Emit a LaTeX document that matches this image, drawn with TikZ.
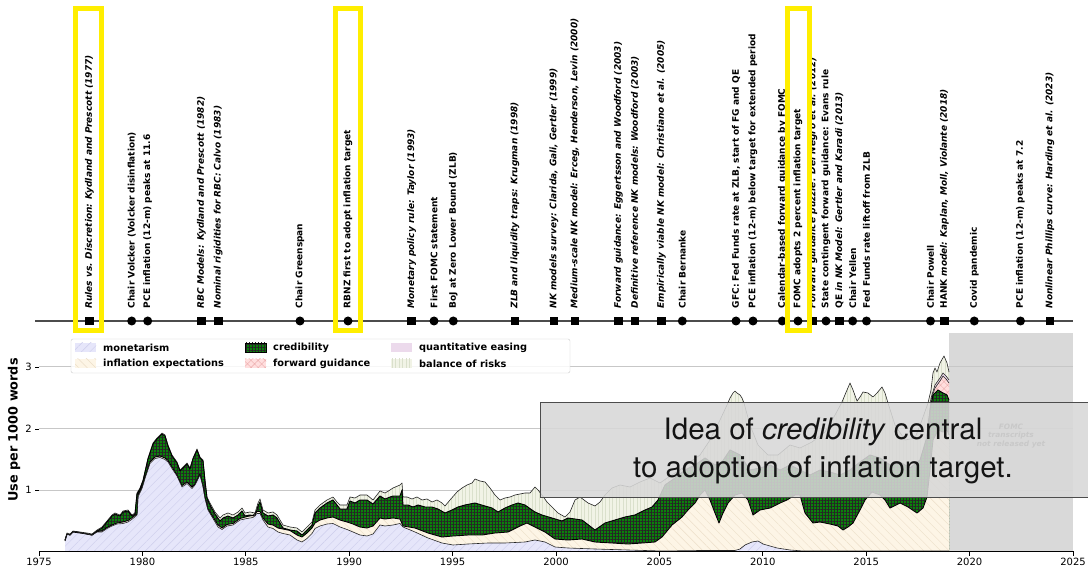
\documentclass[tikz,border=0pt]{standalone}
\usepackage{fontspec}
\setmainfont{DejaVu Sans}
\newfontfamily\heros{TeX Gyre Heros}
\usetikzlibrary{calc,patterns.meta}
\definecolor{Monetarism}{RGB}{230,230,250}
\definecolor{MonetarismHatch}{RGB}{205,205,236}
\definecolor{Expectations}{RGB}{253,245,230}
\definecolor{ExpectationsHatch}{RGB}{236,222,200}
\definecolor{Credibility}{RGB}{10,130,10}
\definecolor{Guidance}{RGB}{255,222,222}
\definecolor{GuidanceHatch}{RGB}{235,170,170}
\definecolor{Easing}{RGB}{236,218,236}
\definecolor{Balance}{RGB}{241,243,230}
\definecolor{BalanceHatch}{RGB}{218,224,204}
\definecolor{NotReleased}{RGB}{217,217,217}
\definecolor{Highlight}{RGB}{255,238,0}
\definecolor{IdeaBox}{RGB}{216,216,216}
\newcommand{\BalanceTop}{(65,540) -- (67,533) -- (70,534) -- (73,531) -- (80,532) -- (87,533) -- (92,534) -- (97,530) -- (102,527) -- (107,521) -- (112,515) -- (115,513) -- (120,515) -- (123,511) -- (128,510) -- (132,515) -- (135,513) -- (137,493) -- (140,488) -- (143,480) -- (148,458) -- (153,443) -- (157,438) -- (162,433) -- (165,435) -- (168,445) -- (172,455) -- (177,462) -- (180,470) -- (183,467) -- (187,463) -- (190,468) -- (193,458) -- (197,449) -- (200,457) -- (203,460) -- (205,480) -- (207,497) -- (210,503) -- (215,512) -- (220,518) -- (223,515) -- (228,513) -- (233,515) -- (238,512) -- (242,508) -- (245,513) -- (250,512) -- (255,513) -- (258,503) -- (260,499) -- (263,510) -- (268,513) -- (273,512) -- (277,515) -- (280,520) -- (283,525) -- (290,527) -- (297,528) -- (302,532) -- (307,527) -- (312,522) -- (315,510) -- (320,505) -- (327,500) -- (333,497) -- (337,502) -- (340,505) -- (347,505) -- (350,497) -- (355,498) -- (360,495) -- (367,495) -- (373,500) -- (380,491) -- (385,493) -- (390,490) -- (393,488) -- (400,485) -- (402,483) -- (403,497) -- (407,497) -- (412,499) -- (417,497) -- (422,500) -- (427,499) -- (432,502) -- (437,500) -- (442,503) -- (445,506) -- (450,500) -- (457,492) -- (462,488) -- (467,485) -- (472,483) -- (475,479) -- (480,481) -- (485,482) -- (490,488) -- (495,495) -- (500,500) -- (505,498) -- (510,497) -- (515,495) -- (520,494) -- (525,493) -- (530,493) -- (535,487) -- (538,490) -- (542,495) -- (547,502) -- (552,507) -- (558,513) -- (565,517) -- (570,512) -- (575,500) -- (580,497) -- (588,503) -- (595,506) -- (600,502) -- (605,495) -- (612,488) -- (620,485) -- (630,487) -- (640,482) -- (650,478) -- (660,483) -- (670,476) -- (680,470) -- (690,462) -- (700,455) -- (710,440) -- (720,420) -- (727,405) -- (730,398) -- (733,393) -- (735,391) -- (737,393) -- (740,395) -- (742,398) -- (744,403) -- (750,425) -- (758,445) -- (768,455) -- (778,455) -- (790,445) -- (800,448) -- (812,442) -- (825,432) -- (835,415) -- (842,402) -- (847,390) -- (850,383) -- (853,390) -- (857,401) -- (860,397) -- (863,392) -- (868,393) -- (873,397) -- (877,393) -- (882,387) -- (885,393) -- (888,403) -- (895,425) -- (905,440) -- (915,438) -- (922,420) -- (928,403) -- (931,390) -- (933,373) -- (935,368) -- (937,372) -- (940,363) -- (944,356) -- (947,363) -- (949,372)}
\newcommand{\EasingTop}{(924,470) -- (928,430) -- (931,398) -- (935,385) -- (940,378) -- (943,373) -- (946,376) -- (949,380)}
\newcommand{\GuidanceTop}{(924,472) -- (928,432) -- (931,400) -- (935,388) -- (940,381) -- (943,376) -- (946,379) -- (949,383)}
\newcommand{\CredibilityTop}{(65,541) -- (67,534) -- (70,535) -- (73,532) -- (80,533) -- (87,534) -- (92,535) -- (97,531) -- (102,528) -- (107,522) -- (112,516) -- (115,514) -- (120,516) -- (123,512) -- (128,511) -- (132,516) -- (135,514) -- (137,494) -- (140,489) -- (143,481) -- (148,459) -- (153,444) -- (157,439) -- (162,434) -- (165,436) -- (168,446) -- (172,456) -- (177,463) -- (180,471) -- (183,468) -- (187,464) -- (190,469) -- (193,459) -- (197,450) -- (200,458) -- (203,461) -- (205,481) -- (207,498) -- (210,505) -- (215,514) -- (220,521) -- (223,518) -- (228,516) -- (233,518) -- (238,515) -- (242,511) -- (245,516) -- (250,515) -- (255,516) -- (258,506) -- (260,502) -- (263,513) -- (268,516) -- (273,515) -- (277,518) -- (280,523) -- (283,528) -- (290,530) -- (297,531) -- (302,535) -- (307,530) -- (312,525) -- (315,513) -- (320,508) -- (327,503) -- (333,500) -- (337,505) -- (340,509) -- (347,509) -- (350,501) -- (355,503) -- (360,500) -- (367,500) -- (373,504) -- (380,496) -- (385,499) -- (390,497) -- (393,496) -- (400,496) -- (402,490) -- (403,505) -- (408,505) -- (413,507) -- (418,505) -- (425,507) -- (432,507) -- (438,509) -- (445,513) -- (452,510) -- (458,507) -- (465,505) -- (475,503) -- (485,506) -- (492,508) -- (498,512) -- (505,508) -- (512,505) -- (518,503) -- (525,505) -- (532,510) -- (535,512) -- (542,515) -- (552,518) -- (562,521) -- (568,518) -- (582,520) -- (595,530) -- (605,523) -- (615,520) -- (625,517) -- (635,515) -- (645,510) -- (652,507) -- (658,500) -- (665,485) -- (675,478) -- (685,470) -- (695,465) -- (705,458) -- (715,465) -- (722,462) -- (730,450) -- (740,455) -- (750,470) -- (760,468) -- (770,465) -- (780,470) -- (790,465) -- (800,470) -- (810,475) -- (820,470) -- (830,472) -- (840,475) -- (850,470) -- (860,462) -- (870,455) -- (880,458) -- (890,465) -- (900,462) -- (910,468) -- (920,460) -- (926,440) -- (930,410) -- (933,395) -- (938,390) -- (943,393) -- (947,395) -- (949,400)}
\newcommand{\ExpectationsTop}{(65,540) -- (67,534) -- (70,535) -- (73,531.5) -- (80,532.5) -- (87,534) -- (92,535) -- (97,531.5) -- (102,531) -- (107,527.5) -- (112,525) -- (117,523) -- (123,522) -- (128,520.5) -- (133,517) -- (137,514) -- (138,495) -- (142,487) -- (145,477) -- (150,462) -- (155,457) -- (160,456) -- (165,458) -- (168,460.5) -- (172,467) -- (177,475) -- (182,485.5) -- (187,482) -- (192,487) -- (195,484) -- (200,474) -- (203,485.5) -- (205,497) -- (208,509) -- (213,517) -- (218,525) -- (222,528) -- (227,524.5) -- (233,523.5) -- (240,518.5) -- (247,516.5) -- (253,515.5) -- (257,511.5) -- (260,511.5) -- (263,518) -- (268,524) -- (273,525) -- (278,528) -- (283,529) -- (290,530.5) -- (297,535) -- (302,537) -- (307,533) -- (312,528) -- (315,523) -- (320,520) -- (327,518) -- (333,517) -- (340,520) -- (347,522) -- (353,524) -- (360,527) -- (367,528) -- (373,526) -- (380,518) -- (385,519) -- (393,518) -- (400,519) -- (403,526) -- (415,528) -- (428,533) -- (442,537) -- (453,536) -- (468,535) -- (482,535) -- (495,533) -- (508,532) -- (520,526) -- (527,523) -- (535,527) -- (545,532) -- (555,539) -- (568,540) -- (582,539) -- (595,542) -- (612,543) -- (628,544) -- (642,543) -- (655,542) -- (662,537) -- (672,525) -- (682,517) -- (688,510) -- (695,503) -- (700,495) -- (705,490) -- (710,500) -- (715,513) -- (719,523) -- (723,513) -- (728,503) -- (735,495) -- (742,493) -- (748,500) -- (753,515) -- (760,510) -- (770,508) -- (780,503) -- (787,500) -- (795,495) -- (800,495) -- (805,513) -- (813,523) -- (820,522) -- (830,524) -- (838,526) -- (843,530) -- (848,527) -- (853,523) -- (860,510) -- (865,500) -- (872,492) -- (880,495) -- (885,500) -- (890,508) -- (900,503) -- (908,507) -- (917,513) -- (923,508) -- (927,497) -- (930,470) -- (933,440) -- (938,430) -- (943,432) -- (947,430) -- (949,435)}
\newcommand{\MonetarismTop}{(65,540) -- (67,534) -- (70,535) -- (73,531.5) -- (80,532.5) -- (87,534) -- (92,535) -- (97,532) -- (102,532) -- (107,528.5) -- (112,526) -- (117,524) -- (123,523.5) -- (128,522) -- (133,518.5) -- (137,515) -- (138,497) -- (142,488.5) -- (145,478.5) -- (150,463.5) -- (155,458.5) -- (160,457.5) -- (165,459.5) -- (168,462) -- (172,468.5) -- (177,476) -- (182,487) -- (187,483.5) -- (192,488.5) -- (195,485) -- (200,475) -- (203,487) -- (205,498.5) -- (208,510) -- (213,518.5) -- (218,527) -- (222,529.5) -- (227,526) -- (233,525) -- (240,520) -- (247,518.5) -- (253,517.5) -- (257,513.5) -- (260,513.5) -- (263,520) -- (268,527) -- (273,528.5) -- (278,532) -- (283,533.5) -- (290,535) -- (297,540) -- (302,542) -- (307,538.5) -- (312,533.5) -- (315,528.5) -- (320,526) -- (327,524) -- (333,523.5) -- (340,527) -- (347,529.5) -- (353,532) -- (360,535) -- (367,536) -- (373,534) -- (380,525) -- (385,526) -- (393,525) -- (400,523.5) -- (403,527) -- (415,532) -- (428,538) -- (442,543) -- (453,545) -- (468,544) -- (488,543) -- (505,543) -- (525,542) -- (535,540) -- (545,542) -- (555,547) -- (568,548) -- (595,549) -- (628,550) -- (662,551) -- (700,550.5) -- (735,550.5) -- (740,549) -- (745,545) -- (752,542) -- (758,541) -- (763,544) -- (777,548) -- (790,550) -- (803,551) -- (949,551)}

\begin{document}
\begin{tikzpicture}[x=1pt,y=-1pt]
	\tikzstyle{every node}=[inner sep=0pt]
	\tikzstyle{paper}=[fill=black, shape=rectangle, minimum size=8.5pt]
	\tikzstyle{event}=[fill=black, shape=circle, minimum size=9pt]
	\tikzstyle{evtext}=[rotate=90, anchor=west, font=\bfseries\fontsize{9}{10}\selectfont]
	\tikzstyle{papertext}=[rotate=90, anchor=west, font=\bfseries\itshape\fontsize{9}{10}\selectfont]
	\tikzstyle{highlight}=[draw=Highlight, line width=5pt]
	\tikzstyle{yearlabel}=[anchor=north, font=\fontsize{10}{11}\selectfont]
	\tikzstyle{valuelabel}=[anchor=east, font=\fontsize{10}{11}\selectfont]
	\tikzstyle{gridline}=[black!22, line width=1pt]
	\tikzstyle{monArea}=[preaction={fill=Monetarism}, pattern={Lines[angle=45,distance=6pt,line width=0.4pt]}, pattern color=MonetarismHatch]
	\tikzstyle{expArea}=[preaction={fill=Expectations}, pattern={Lines[angle=-45,distance=6pt,line width=0.4pt]}, pattern color=ExpectationsHatch]
	\tikzstyle{credArea}=[preaction={fill=Credibility}, pattern={Hatch[angle=0,distance=3pt,line width=0.45pt]}, pattern color=black!85]
	\tikzstyle{fgArea}=[preaction={fill=Guidance}, pattern={Hatch[angle=45,distance=5pt,line width=0.4pt]}, pattern color=GuidanceHatch]
	\tikzstyle{qeArea}=[fill=Easing]
	\tikzstyle{borArea}=[preaction={fill=Balance}, pattern={Lines[angle=90,distance=3.5pt,line width=0.4pt]}, pattern color=BalanceHatch]
	\tikzstyle{edge}=[black!85, line width=0.6pt, line join=round]
	\tikzstyle{credEdge}=[black, line width=0.9pt, line join=round]
	\tikzstyle{legtext}=[anchor=west, font=\bfseries\fontsize{9.8}{11}\selectfont]
	\useasboundingbox (0,0) rectangle (1088,569);
	\fill [white] (0,0) rectangle (1088,569);

	\fill [NotReleased] (949,333) rectangle (1073,551);
	\draw [gridline] (39,367) -- (1073,367);
	\draw [gridline] (39,429) -- (1073,429);
	\draw [gridline] (39,490) -- (1073,490);

	\path [borArea] \BalanceTop -- (949,551) -- (65,551) -- cycle;
	\path [qeArea] \EasingTop -- (949,551) -- (924,551) -- cycle;
	\path [fgArea] \GuidanceTop -- (949,551) -- (924,551) -- cycle;
	\path [credArea] \CredibilityTop -- (949,551) -- (65,551) -- cycle;
	\path [expArea] \ExpectationsTop -- (949,551) -- (65,551) -- cycle;
	\path [monArea] \MonetarismTop -- (949,551) -- (65,551) -- cycle;
	\draw [edge] \BalanceTop;
	\draw [edge] \EasingTop;
	\draw [edge] \GuidanceTop;
	\draw [credEdge] \CredibilityTop;
	\draw [credEdge] \ExpectationsTop;
	\draw [edge] \MonetarismTop;

	\draw [black, line width=0.9pt] (39,551) -- (1073,551);
	\draw [black, line width=0.9pt] (39,551) -- (39,556) (142.4,551) -- (142.4,556) (245.8,551) -- (245.8,556) (349.2,551) -- (349.2,556) (452.6,551) -- (452.6,556) (556,551) -- (556,556) (659.4,551) -- (659.4,556) (762.8,551) -- (762.8,556) (866.2,551) -- (866.2,556) (969.6,551) -- (969.6,556) (1073,551) -- (1073,556);
	\node [yearlabel] (y1975) at (39,558) {1975};
	\node [yearlabel] (y1980) at (142.4,558) {1980};
	\node [yearlabel] (y1985) at (245.8,558) {1985};
	\node [yearlabel] (y1990) at (349.2,558) {1990};
	\node [yearlabel] (y1995) at (452.6,558) {1995};
	\node [yearlabel] (y2000) at (556,558) {2000};
	\node [yearlabel] (y2005) at (659.4,558) {2005};
	\node [yearlabel] (y2010) at (762.8,558) {2010};
	\node [yearlabel] (y2015) at (866.2,558) {2015};
	\node [yearlabel] (y2020) at (969.6,558) {2020};
	\node [yearlabel] (y2025) at (1073,558) {2025};
	\draw [black, line width=0.9pt] (35,367) -- (39,367) (35,429) -- (39,429) (35,490) -- (39,490);
	\node [valuelabel] (v3) at (32,367) {3};
	\node [valuelabel] (v2) at (32,429) {2};
	\node [valuelabel] (v1) at (32,490) {1};
	\node [rotate=90, font=\bfseries\fontsize{12.8}{14}\selectfont] (ylab) at (14,430) {Use per 1000 words};

	\coordinate (tlStart) at (35,321);
	\coordinate (tlEnd) at (1073,321);
	\draw [black!70, line width=1.5pt] (tlStart) -- (tlEnd);
	\node [paper] (rules) at (89.5,321) {};
	\node [papertext] (rulesText) at ([yshift=8pt]rules.north) {Rules vs. Discretion: Kydland and Prescott (1977)};
	\node [event] (volcker) at (131.7,321) {};
	\node [evtext] (volckerText) at ([yshift=8pt]volcker.north) {Chair Volcker (Volcker disinflation)};
	\node [event] (pcePeak) at (147.7,321) {};
	\node [evtext] (pcePeakText) at ([yshift=8pt]pcePeak.north) {PCE inflation (12-m) peaks at 11.6};
	\node [paper] (rbc) at (201.5,321) {};
	\node [papertext] (rbcText) at ([yshift=8pt]rbc.north) {RBC Models: Kydland and Prescott (1982)};
	\node [paper] (calvo) at (218.3,321) {};
	\node [papertext] (calvoText) at ([yshift=8pt]calvo.north) {Nominal rigidities for RBC: Calvo (1983)};
	\node [event] (greenspan) at (300,321) {};
	\node [evtext] (greenspanText) at ([yshift=8pt]greenspan.north) {Chair Greenspan};
	\node [event] (rbnz) at (348,321) {};
	\node [evtext] (rbnzText) at ([yshift=8pt]rbnz.north) {RBNZ first to adopt inflation target};
	\node [paper] (taylor) at (411.7,321) {};
	\node [papertext] (taylorText) at ([yshift=8pt]taylor.north) {Monetary policy rule: Taylor (1993)};
	\node [event] (firstFomc) at (434,321) {};
	\node [evtext] (firstFomcText) at ([yshift=8pt]firstFomc.north) {First FOMC statement};
	\node [event] (boj) at (453.3,321) {};
	\node [evtext] (bojText) at ([yshift=8pt]boj.north) {BoJ at Zero Lower Bound (ZLB)};
	\node [paper] (krugman) at (515,321) {};
	\node [papertext] (krugmanText) at ([yshift=8pt]krugman.north) {ZLB and liquidity traps: Krugman (1998)};
	\node [paper] (clarida) at (554,321) {};
	\node [papertext] (claridaText) at ([yshift=8pt]clarida.north) {NK models survey: Clarida, Gali, Gertler (1999)};
	\node [paper] (erceg) at (575,321) {};
	\node [papertext] (ercegText) at ([yshift=8pt]erceg.north) {Medium-scale NK model: Erceg, Henderson, Levin (2000)};
	\node [paper] (eggertsson) at (618.3,321) {};
	\node [papertext] (eggertssonText) at ([yshift=8pt]eggertsson.north) {Forward guidance: Eggertsson and Woodford (2003)};
	\node [paper] (woodford) at (635,321) {};
	\node [papertext] (woodfordText) at ([yshift=8pt]woodford.north) {Definitive reference NK models: Woodford (2003)};
	\node [paper] (christiano) at (661.5,321) {};
	\node [papertext] (christianoText) at ([yshift=8pt]christiano.north) {Empirically viable NK model: Christiano et al. (2005)};
	\node [event] (bernanke) at (682.3,321) {};
	\node [evtext] (bernankeText) at ([yshift=8pt]bernanke.north) {Chair Bernanke};
	\node [event] (gfc) at (736,321) {};
	\node [evtext] (gfcText) at ([yshift=8pt]gfc.north) {GFC: Fed Funds rate at ZLB, start of FG and QE};
	\node [event] (pceLow) at (753,321) {};
	\node [evtext] (pceLowText) at ([yshift=8pt]pceLow.north) {PCE inflation (12-m) below target for extended period};
	\node [event] (calendar) at (782.3,321) {};
	\node [evtext] (calendarText) at ([yshift=8pt]calendar.north) {Calendar-based forward guidance by FOMC};
	\node [event] (twoPercent) at (798,321) {};
	\node [evtext] (twoPercentText) at ([yshift=8pt]twoPercent.north) {FOMC adopts 2 percent inflation target};
	\node [paper] (delNegro) at (813,321) {};
	\node [papertext] (delNegroText) at ([yshift=8pt]delNegro.north) {Forward guidance puzzle: Del Negro et al. (2012)};
	\node [event] (evans) at (826,321) {};
	\node [evtext] (evansText) at ([yshift=8pt]evans.north) {State contingent forward guidance: Evans rule};
	\node [paper] (gertler) at (839.3,321) {};
	\node [papertext] (gertlerText) at ([yshift=8pt]gertler.north) {{\upshape QE} in NK Model: Gertler and Karadi (2013)};
	\node [event] (yellen) at (852.7,321) {};
	\node [evtext] (yellenText) at ([yshift=8pt]yellen.north) {Chair Yellen};
	\node [event] (liftoff) at (866.5,321) {};
	\node [evtext] (liftoffText) at ([yshift=8pt]liftoff.north) {Fed Funds rate liftoff from ZLB};
	\node [event] (powell) at (930.5,321) {};
	\node [evtext] (powellText) at ([yshift=8pt]powell.north) {Chair Powell};
	\node [paper] (hank) at (944.3,321) {};
	\node [papertext] (hankText) at ([yshift=8pt]hank.north) {{\upshape HANK} model: Kaplan, Moll, Violante (2018)};
	\node [event] (covid) at (974.3,321) {};
	\node [evtext] (covidText) at ([yshift=8pt]covid.north) {Covid pandemic};
	\node [event] (pceAgain) at (1020.5,321) {};
	\node [evtext] (pceAgainText) at ([yshift=8pt]pceAgain.north) {PCE inflation (12-m) peaks at 7.2};
	\node [paper] (harding) at (1050,321) {};
	\node [papertext] (hardingText) at ([yshift=8pt]harding.north) {Nonlinear Phillips curve: Harding et al. (2023)};

	\draw [highlight] (75.8,9) rectangle (101.8,331);
	\draw [highlight] (335,9) rectangle (360.8,331);
	\draw [highlight] (787,9) rectangle (809.5,331);

	\draw [rounded corners=2pt, draw=black!20, fill=white, fill opacity=0.85] (71,339) rectangle (570,373);
	\path [monArea] (75,343) rectangle (96,352);
	\path [expArea] (75,359) rectangle (96,368);
	\path [credArea, draw=black, line width=0.6pt] (245,343) rectangle (266,352);
	\path [fgArea] (245,359) rectangle (266,368);
	\path [qeArea] (391,343) rectangle (412,352);
	\path [borArea] (391,359) rectangle (412,368);
	\node [legtext] (legMon) at (103,347.5) {monetarism};
	\node [legtext] (legExp) at (103,363.5) {inflation expectations};
	\node [legtext] (legCred) at (273,347.5) {credibility};
	\node [legtext] (legFg) at (273,363.5) {forward guidance};
	\node [legtext] (legQe) at (419,347.5) {quantitative easing};
	\node [legtext] (legBor) at (419,363.5) {balance of risks};

	\node [align=center, text=black!65, font=\bfseries\itshape\fontsize{7.4}{8.3}\selectfont] (fomcNote) at (1011,436) {FOMC\\transcripts\\not released yet};

	\draw [draw=black!70, line width=1pt, fill=IdeaBox, fill opacity=0.88] (540,403) rectangle (1095,497);
	\node [align=center, text=black!92, font=\heros\fontsize{29.5}{38.5}\selectfont] (idea) at (823,451) {Idea of \textit{credibility} central\\to adoption of inflation target.};
\end{tikzpicture}
\end{document}
